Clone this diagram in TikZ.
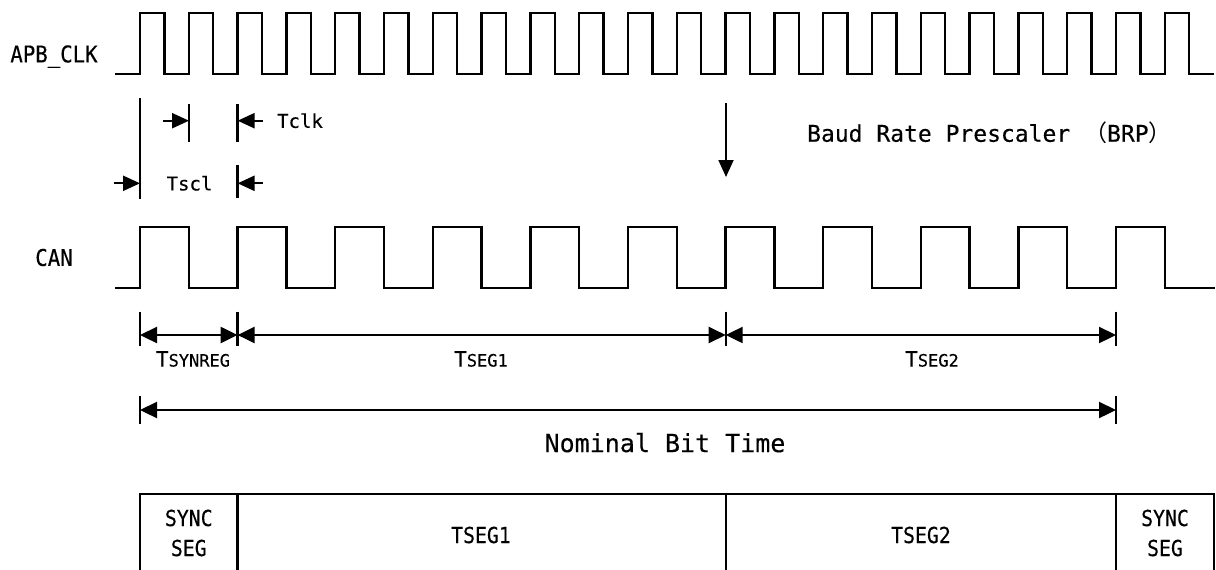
\documentclass[tikz,border=0pt]{standalone}
\usepackage{fontspec}
\setmainfont{DejaVu Sans Mono}[FakeBold=0.3]
\newfontfamily\cond{DejaVu Sans Mono}[FakeStretch=0.9,FakeBold=0.3]
\newfontfamily\cjk{Noto Sans CJK SC}
\usetikzlibrary{arrows.meta}
\newcommand\fsz[1]{\fontsize{#1}{#1}\selectfont}
\newcommand\bigsmall[2]{{\fsz{10.5pt}#1}{\fsz{8.5pt}#2}}
\begin{document}
\begin{tikzpicture}[x=0.5pt,y=-0.5pt,line width=1.15pt,line join=miter,
  tip/.style={-{Triangle[length=8.5pt,width=7.5pt]}},
  dim/.style={{Triangle[length=8.5pt,width=8pt]}-{Triangle[length=8.5pt,width=8pt]}},
  lbl/.style={font=\cond\fsz{11.5pt},inner sep=0pt},
  small/.style={font=\fsz{9.5pt},inner sep=0pt},
  boxtxt/.style={font=\cond\fontsize{11pt}{15pt}\selectfont,inner sep=0pt,align=center}]
\useasboundingbox (0,0) rectangle (1216,569);

% signal names
\node[lbl] (apb) at (54,56.5) {APB\_CLK};
\node[lbl] (can) at (54,257.5) {CAN};

% APB_CLK waveform
\draw (115,74) \foreach \k in {0,...,21}{
  -- ({140+48.8*\k},74) -- ({140+48.8*\k},13) -- ({164.4+48.8*\k},13) -- ({164.4+48.8*\k},74)}
  -- (1214,74);

% CAN waveform
\draw (115,288) \foreach \k in {0,...,10}{
  -- ({140+97.6*\k},288) -- ({140+97.6*\k},227) -- ({188.8+97.6*\k},227) -- ({188.8+97.6*\k},288)}
  -- (1215,288);

% Tclk / Tscl markers
\coordinate (m0t) at (140,98);   \coordinate (m0b) at (140,199);
\coordinate (m1t) at (189,104);  \coordinate (m1b) at (189,142);
\coordinate (m2t) at (237.6,104);\coordinate (m2b) at (237.6,142);
\coordinate (m3t) at (237.6,165);\coordinate (m3b) at (237.6,198);
\draw (m0t) -- (m0b);
\draw (m1t) -- (m1b);
\draw (m2t) -- (m2b);
\draw (m3t) -- (m3b);
\coordinate (a1) at (163,120.7);   \coordinate (a1e) at (189,120.7);
\coordinate (a2) at (263,120.7);   \coordinate (a2e) at (237.6,120.7);
\coordinate (a3) at (114,183.3);   \coordinate (a3e) at (140,183.3);
\coordinate (a4) at (263,183.3);   \coordinate (a4e) at (237.6,183.3);
\draw[tip] (a1) -- (a1e);
\draw[tip] (a2) -- (a2e);
\draw[tip] (a3) -- (a3e);
\draw[tip] (a4) -- (a4e);
\node[small,anchor=west] (tclk) at (276,120.7) {Tclk};
\node[small] (tscl) at (189.5,183.3) {Tscl};

% Baud rate prescaler arrow
\coordinate (b1) at (726,103);
\coordinate (b2) at (726,177);
\draw[tip,line width=0.9pt] (b1) -- (b2);
\node[font=\fsz{11.5pt},inner sep=0pt,anchor=west] (brp) at (806,133)
  {Baud Rate Prescaler {\cjk（}BRP{\cjk）}};

% segment dimensions
\foreach \n/\x in {0/140,1/237.6,2/725.7,3/1116}{
  \coordinate (d\n t) at (\x,311.7);
  \coordinate (d\n b) at (\x,346);
  \coordinate (d\n) at (\x,335);
  \draw (d\n t) -- (d\n b);
}
\draw[dim] (d0) -- (d1);
\draw[dim] (d1) -- (d2);
\draw[dim] (d2) -- (d3);
\node[inner sep=0pt] (tsyn) at (193,359) {\bigsmall{T}{SYNREG}};
\node[inner sep=0pt] (tseg1) at (481,359) {\bigsmall{T}{SEG1}};
\node[inner sep=0pt] (tseg2) at (932,359) {\bigsmall{T}{SEG2}};

% nominal bit time
\coordinate (n0t) at (140,396); \coordinate (n0b) at (140,424);
\coordinate (n1t) at (1116,396); \coordinate (n1b) at (1116,424);
\coordinate (n0) at (140,410); \coordinate (n1) at (1116,410);
\draw (n0t) -- (n0b);
\draw (n1t) -- (n1b);
\draw[dim] (n0) -- (n1);
\node[font=\fsz{12.5pt},inner sep=0pt] (nbt) at (665,442.7) {Nominal Bit Time};

% bit segment boxes
\draw (140,575) -- (140,494.3) -- (1214,494.3) -- (1214,575);
\foreach \x in {237.6,725.7,1116}{ \draw (\x,494.3) -- (\x,575); }
\node[boxtxt] (s1) at (188.8,533) {SYNC\\SEG};
\node[boxtxt] (s2) at (481,535) {TSEG1};
\node[boxtxt] (s3) at (921,535) {TSEG2};
\node[boxtxt] (s4) at (1165,533) {SYNC\\SEG};
\end{tikzpicture}
\end{document}
